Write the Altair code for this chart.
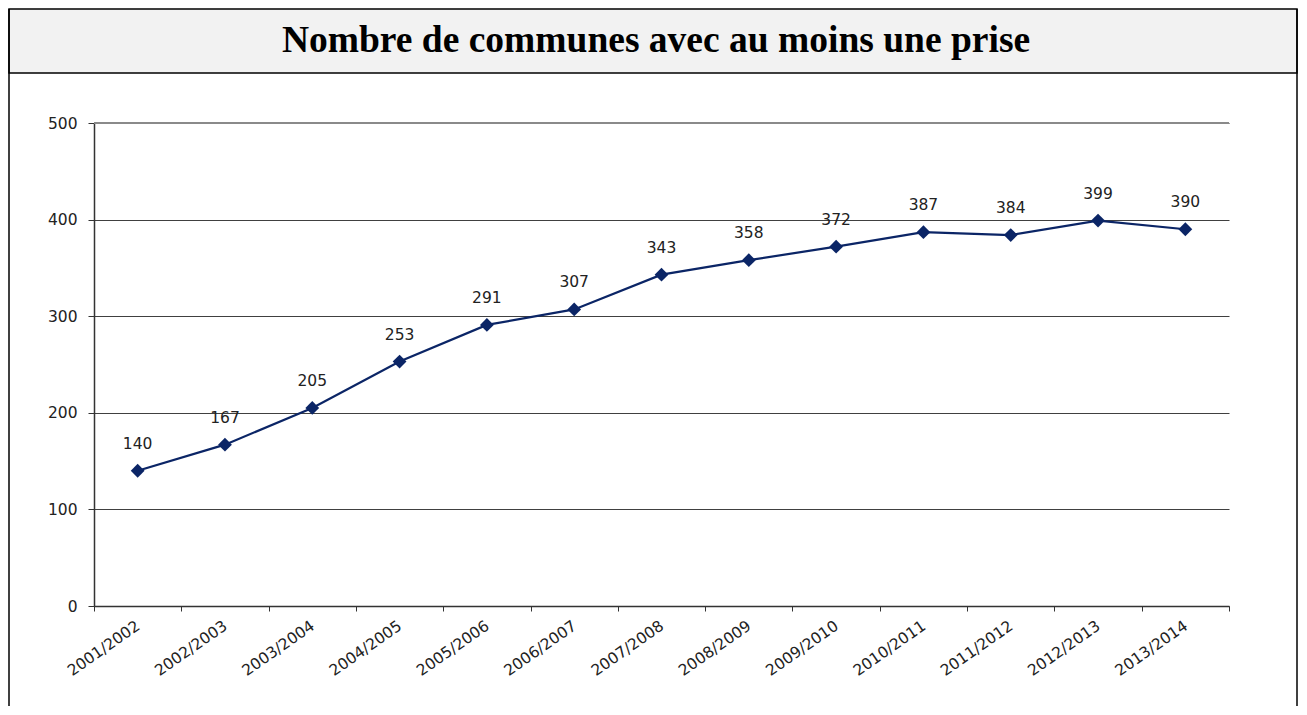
import altair as alt
import pandas as pd

seasons = ["2001/2002", "2002/2003", "2003/2004", "2004/2005", "2005/2006",
           "2006/2007", "2007/2008", "2008/2009", "2009/2010", "2010/2011",
           "2011/2012", "2012/2013", "2013/2014"]
communes = [140, 167, 205, 253, 291, 307, 343, 358, 372, 387, 384, 399, 390]
y_ticks = [0, 100, 200, 300, 400, 500]
title_text = "Nombre de communes avec au moins une prise"

df = pd.DataFrame({"saison": seasons, "communes": communes})

W, H = 1135, 483
LINE_COLOR = "#0b2566"
FONT = "DejaVu Sans"
FS = 15.5

x_enc = alt.X("saison:N", sort=seasons, bandPosition=0.5,
              scale=alt.Scale(type="band", paddingInner=0, paddingOuter=0),
              axis=alt.Axis(title=None, labelAngle=-35, tickBand="extent", grid=False))
y_enc = alt.Y("communes:Q", scale=alt.Scale(domain=[0, 500], nice=False),
              axis=alt.Axis(title=None, values=y_ticks, grid=True))

one = alt.Data(values=[{"a": 1}])

band = alt.Chart(one).mark_rect(fill="#f2f2f2", stroke="black", strokeWidth=1.5).encode(
    x=alt.value(-85), x2=alt.value(1203), y=alt.value(-114), y2=alt.value(-50))
left = alt.Chart(one).mark_rule(color="black", strokeWidth=1.5).encode(
    x=alt.value(-85), y=alt.value(-114), y2=alt.value(583))
right = alt.Chart(one).mark_rule(color="black", strokeWidth=1.5).encode(
    x=alt.value(1203), y=alt.value(-114), y2=alt.value(583))
title = alt.Chart(alt.Data(values=[{"t": title_text}])).mark_text(
    font="Liberation Serif", fontSize=37.5, fontWeight="bold", color="black",
    align="center", baseline="middle").encode(
    x=alt.value(562), y=alt.value(-82), text="t:N")

top_line = alt.Chart(one).mark_rule(color="#8a8a8a", strokeWidth=2).encode(
    x=alt.value(0), x2=alt.value(W), y=alt.value(0))

base = alt.Chart(df)
line = base.mark_line(color=LINE_COLOR, strokeWidth=2.2).encode(x=x_enc, y=y_enc)
pts = base.mark_point(shape="diamond", filled=True, size=190, color=LINE_COLOR, opacity=1).encode(
    x=alt.X("saison:N", sort=seasons, bandPosition=0.5), y="communes:Q")
labels = base.mark_text(font=FONT, fontSize=FS, color="#222222", dy=-27).encode(
    x=alt.X("saison:N", sort=seasons, bandPosition=0.5), y="communes:Q", text="communes:Q")

chart = alt.layer(band, left, right, title, line, top_line, pts, labels).properties(
    width=W, height=H, padding=0, background="white"
).configure_view(stroke=None).configure_axis(
    labelFont=FONT, labelFontSize=FS, labelColor="#222222",
    domainColor="#333333", domainWidth=1.5, tickColor="#333333",
    gridColor="#404040", gridWidth=1
).configure_axisX(
    tickSize=5, labelPadding=7, labelAngle=-35, labelOffset=-4
).configure_axisY(
    tickSize=6, labelPadding=11
)

chart.save("out.html", embed_options={"renderer": "svg", "actions": False})
